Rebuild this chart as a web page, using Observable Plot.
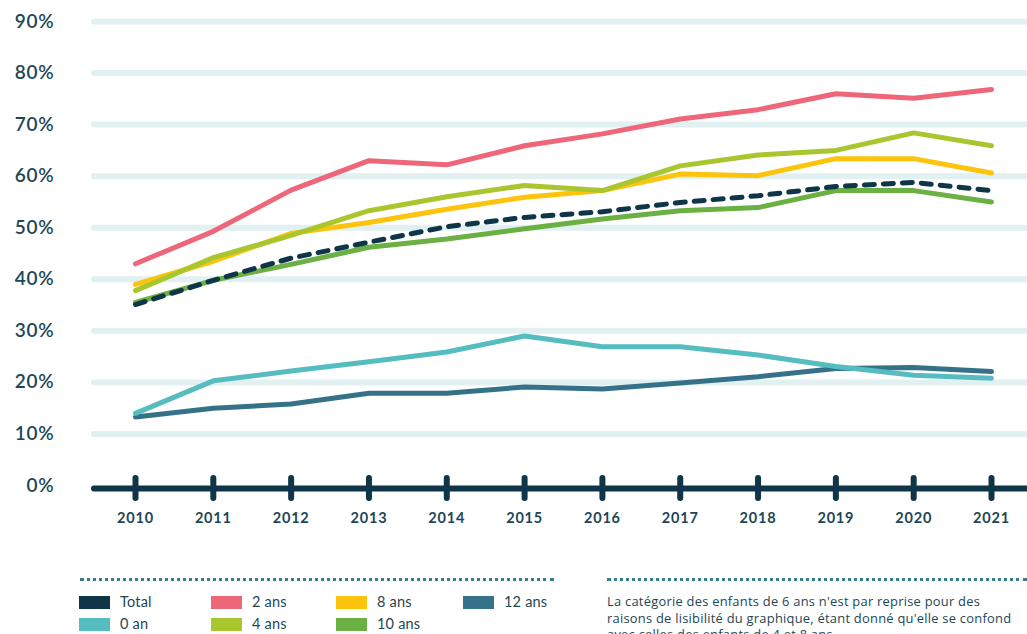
<!DOCTYPE html>
<html>
<head>
<meta charset="utf-8">
<script src="https://cdn.jsdelivr.net/npm/d3@7"></script>
<script src="https://cdn.jsdelivr.net/npm/@observablehq/plot@0.6"></script>
<style>
  body { margin: 0; background: #fff; font-family: Lato, "Open Sans", sans-serif; color: #1d4656; }
  #wrap { position: relative; width: 1027px; height: 634px; overflow: hidden; }
  #chart { position: absolute; left: 0; top: 0; }
  .dots { position: absolute; top: 578px; height: 0; border-top: 3px dotted #3a7b8c; }
  .leg { position: absolute; font-size: 14.5px; line-height: 16px; display: flex; align-items: center; letter-spacing: 0.2px; }
  .sw { width: 31px; height: 13px; margin-right: 10px; display: inline-block; }
  #note { position: absolute; left: 607px; top: 593px; width: 420px; font-family: "Open Sans", Lato, sans-serif; font-size: 12.9px; letter-spacing: 0.25px; line-height: 16.5px; white-space: nowrap; }
  #chart svg text { letter-spacing: 0.8px; }
</style>
</head>
<body>
<div id="wrap">
  <div id="chart"></div>
  <div class="dots" style="left:80px;width:474px"></div>
  <div class="dots" style="left:607px;width:420px"></div>
  <div id="legend"></div>
  <div id="note">La catégorie des enfants de 6 ans n'est par reprise pour des<br>raisons de lisibilité du graphique, étant donné qu'elle se confond<br>avec celles des enfants de 4 et 8 ans.</div>
</div>
<script>
const years = [2010, 2011, 2012, 2013, 2014, 2015, 2016, 2017, 2018, 2019, 2020, 2021];
const seriesNames = ["Total", "0 an", "2 ans", "4 ans", "8 ans", "10 ans", "12 ans"];
const seriesColors = ["#0f3549", "#55bcc0", "#ee6679", "#a9c62f", "#fdc40d", "#6bb043", "#357289"];
const total   = [35.1, 39.8, 44.1, 47.2, 50.2, 52.0, 53.1, 54.9, 56.2, 58.0, 58.8, 57.2];
const an0     = [14.0, 20.3, 22.2, 24.0, 25.9, 29.0, 26.9, 26.9, 25.3, 23.1, 21.4, 20.8];
const ans2    = [43.0, 49.3, 57.3, 63.0, 62.2, 65.9, 68.2, 71.1, 72.9, 76.0, 75.1, 76.8];
const ans4    = [37.8, 44.2, 48.5, 53.3, 56.0, 58.2, 57.2, 62.0, 64.1, 65.0, 68.4, 65.9];
const ans8    = [39.0, 43.5, 48.9, 51.0, 53.6, 55.9, 57.2, 60.4, 60.1, 63.4, 63.4, 60.6];
const ans10   = [35.5, 39.8, 42.9, 46.2, 47.8, 49.8, 51.7, 53.3, 53.9, 57.2, 57.2, 55.0];
const ans12   = [13.3, 15.0, 15.8, 17.9, 17.9, 19.1, 18.7, 19.9, 21.1, 22.7, 22.9, 22.1];
const yTicks = [0, 10, 20, 30, 40, 50, 60, 70, 80, 90];

const valuesBySeries = {"Total": total, "0 an": an0, "2 ans": ans2, "4 ans": ans4, "8 ans": ans8, "10 ans": ans10, "12 ans": ans12};
const rows = [];
for (const s of seriesNames) valuesBySeries[s].forEach((v, i) => rows.push({series: s, year: years[i], value: v}));
const colorOf = Object.fromEntries(seriesNames.map((s, i) => [s, seriesColors[i]]));
const drawOrder = ["12 ans", "0 an", "10 ans", "8 ans", "4 ans", "2 ans"];

const textColor = "#1d4656";
const chart = Plot.plot({
  width: 1027,
  height: 540,
  marginLeft: 94,
  marginRight: 0,
  marginTop: 21,
  marginBottom: 55,
  style: {fontFamily: "Lato, 'Open Sans', sans-serif", color: textColor, background: "transparent"},
  x: {domain: [2010, 2021], range: [135, 991]},
  y: {domain: [0, 90]},
  marks: [
    Plot.ruleY(yTicks.filter(d => d > 0), {stroke: "#e1f1f1", strokeWidth: 6, strokeLinecap: "round"}),
    Plot.axisY(yTicks, {tickSize: 0, tickPadding: 40, tickFormat: d => d + "%", fontSize: 19, fontWeight: 600, fill: textColor, label: null}),
    Plot.axisX(years, {tickSize: 0, tickPadding: 27, tickFormat: d => String(d), fontSize: 14.5, fontWeight: 700, fill: textColor, label: null}),
    ...drawOrder.map(s => Plot.line(rows.filter(r => r.series === s), {x: "year", y: "value", stroke: colorOf[s], strokeWidth: 5, strokeLinecap: "round", strokeLinejoin: "round"})),
    Plot.line(rows.filter(r => r.series === "Total"), {x: "year", y: "value", stroke: colorOf["Total"], strokeWidth: 5, strokeDasharray: "10,9", strokeLinecap: "round", strokeLinejoin: "round"}),
    Plot.ruleY([0], {stroke: "#0f3549", strokeWidth: 6, strokeLinecap: "round", dy: 3}),
    Plot.ruleX(years, {x: d => d, y1: 0, y2: 0, insetTop: -7, insetBottom: -13, stroke: "#0f3549", strokeWidth: 6, strokeLinecap: "round"})
  ]
});
document.getElementById("chart").appendChild(chart);

// legend
const legendCols = [79, 211, 336, 463];
const legendLayout = [["Total", 0, 0], ["2 ans", 1, 0], ["8 ans", 2, 0], ["12 ans", 3, 0], ["0 an", 0, 1], ["4 ans", 1, 1], ["10 ans", 2, 1]];
const leg = document.getElementById("legend");
for (const [name, c, r] of legendLayout) {
  const el = document.createElement("div");
  el.className = "leg";
  el.style.left = legendCols[c] + "px";
  el.style.top = (594 + r * 22) + "px";
  el.innerHTML = `<span class="sw" style="background:${colorOf[name]}"></span><span>${name}</span>`;
  leg.appendChild(el);
}
</script>
</body>
</html>
